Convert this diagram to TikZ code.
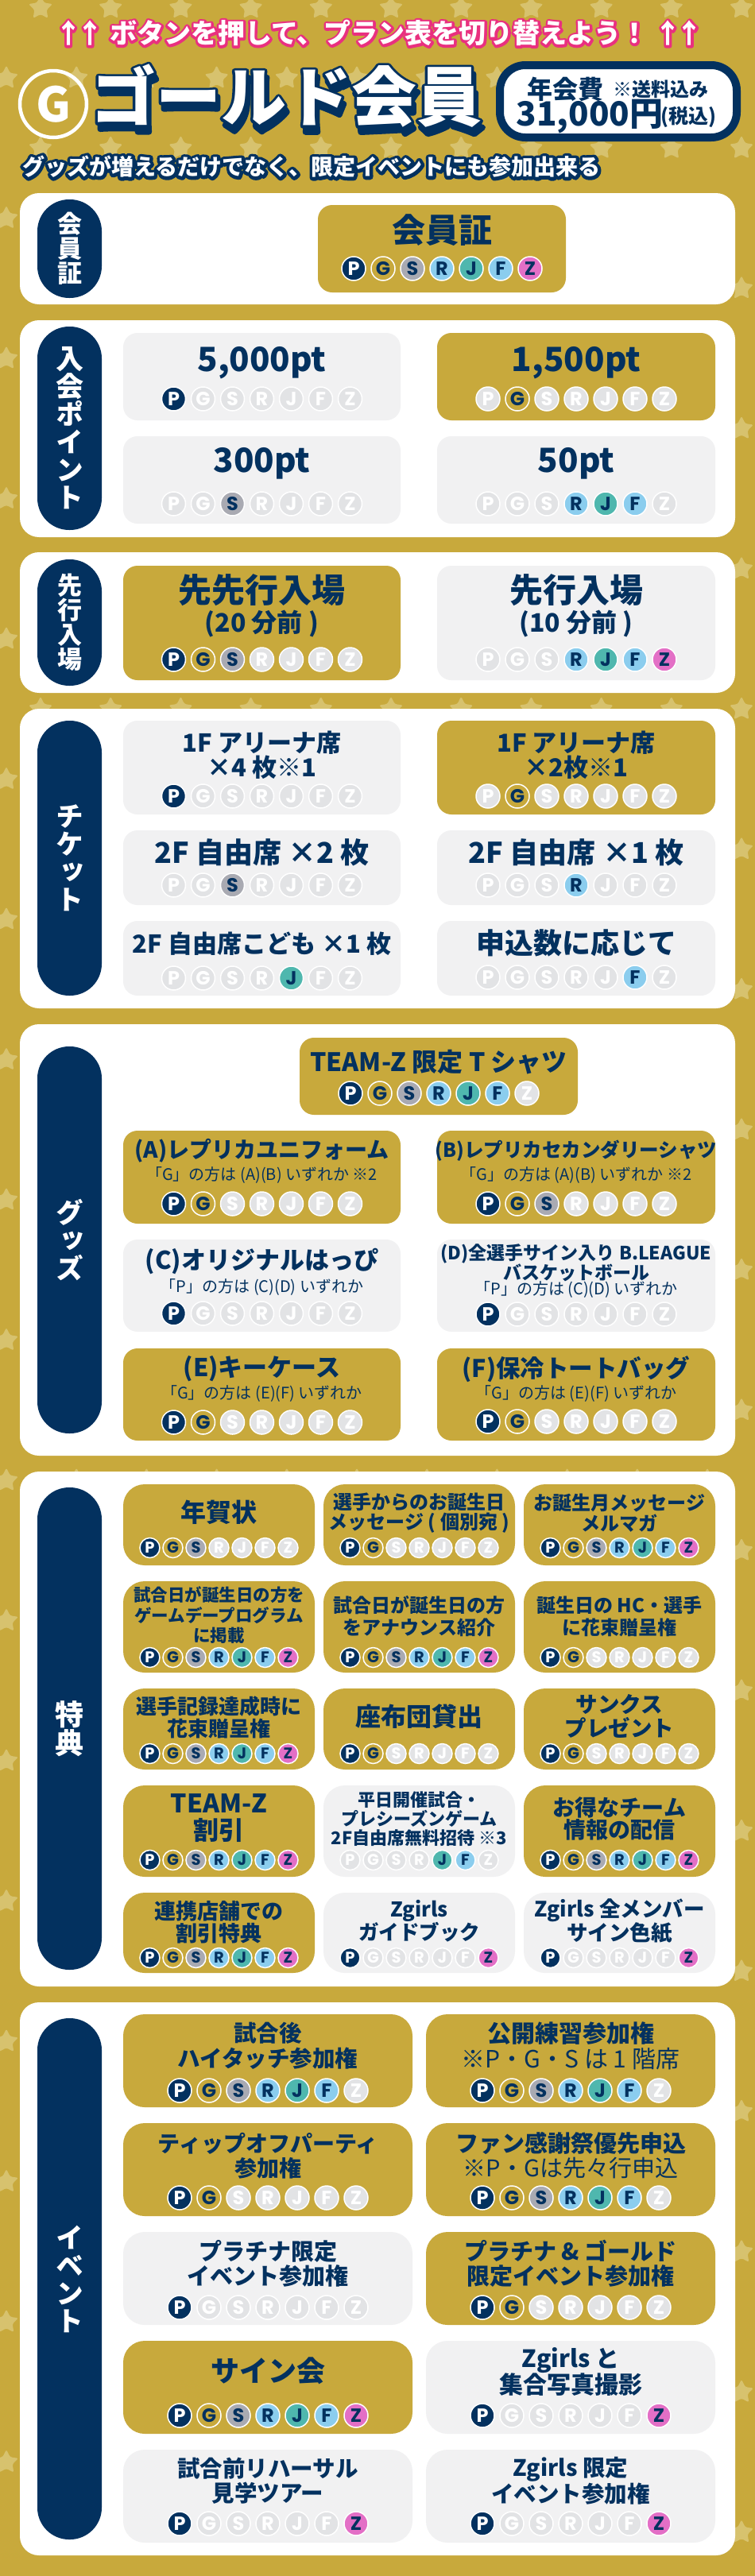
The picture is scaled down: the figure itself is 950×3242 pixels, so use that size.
\documentclass[tikz,border=0pt]{standalone}
\usepackage{fontspec}
\setmainfont{Noto Sans CJK JP}
\newfontfamily\heavyfont{Noto Sans CJK JP Black}
\newfontfamily\pillfont{Noto Sans CJK JP Black}[RawFeature=+vert]
\newfontfamily\badgefont{Poppins}
\definecolor{navy}{HTML}{03315F}
\definecolor{gold}{HTML}{C8A93C}
\definecolor{startile}{HTML}{D7C26E}
\definecolor{cardgray}{HTML}{F1F1F2}
\definecolor{badgeoffgray}{HTML}{E2E3E5}
\definecolor{silver}{HTML}{A9AAB2}
\definecolor{skyblue}{HTML}{8BCDEE}
\definecolor{teal}{HTML}{4FB7AE}
\definecolor{orchid}{HTML}{E36FC6}
\definecolor{hotpink}{HTML}{E9307F}

\tikzset{
  panelbox/.style={fill=white,rounded corners=24pt,inner sep=0pt},
  goldcard/.style={fill=gold,rounded corners=\cardradius,inner sep=0pt},
  graycard/.style={fill=cardgray,rounded corners=\cardradius,inner sep=0pt},
  feebox/.style={fill=white,draw=navy,line width=10pt,rounded corners=32pt,inner sep=0pt},
  pillbox/.style={fill=navy,text=white,rounded corners=40pt,inner sep=0pt,minimum width=81pt,align=center},
  cardlabel/.style={text=navy,align=center,inner sep=0pt},
  badge/.style={circle,draw=white,line width=1.5pt,inner sep=0pt,minimum size=\badgesize,
    font=\badgefont\bfseries\fontsize{\badgefs}{\badgefs}\selectfont},
  badgeoff/.style={badge,fill=badgeoffgray,text=white},
  badgeP/.style={badge,fill=navy,text=white},
  badgeG/.style={badge,fill=gold,text=navy},
  badgeS/.style={badge,fill=silver,text=navy},
  badgeR/.style={badge,fill=skyblue,text=navy},
  badgeJ/.style={badge,fill=teal,text=navy},
  badgeF/.style={badge,fill=skyblue,text=navy},
  badgeZ/.style={badge,fill=orchid,text=navy},
}

\def\starpath{(270:16) -- (306:8) -- (342:16) -- (18:8) -- (54:16) -- (90:8) -- (126:16) -- (162:8) -- (198:16) -- (234:8) -- cycle}

\newcommand{\card}[6]{\node[#2,minimum width={(#5-#3)*1pt},minimum height={(#6-#4)*1pt}] (#1) at ({(#3+#5)/2},{(#4+#6)/2}) {};}
\newcommand{\pill}[5]{\node[pillbox,minimum height={(#3-#2)*1pt},font={\pillfont\fontsize{#4}{#4}\selectfont}] (#1) at (87.5,{(#2+#3)/2}) {#5};}
\newcommand{\cardtext}[6]{\node[cardlabel,font={\bfseries\fontsize{#4}{#5}\selectfont}] (#1) at (#2,#3) {#6};}
\newcommand{\subtext}[5]{\node[cardlabel,font={\fontsize{#4}{#4}\selectfont}] (#1) at (#2,#3) {#5};}
\newcommand{\outlined}[3]{\rlap{\color{#1}\special{pdf:code 1 j 2 Tr #2 w}#3\special{pdf:code 0 Tr}}#3}
\makeatletter
\newcommand{\badgerow}[4]{%
  \foreach \letter [count=\i from -3] in {P,G,S,R,J,F,Z}{%
    \edef\badgetest{\noexpand\in@{\letter}{#4}}\badgetest
    \ifin@\def\badgestyle{badge\letter}\else\def\badgestyle{badgeoff}\fi
    \node[\badgestyle] (#1\letter) at ({#2+\i*\badgepitch},#3) {\letter};
  }%
}
\makeatother

\begin{document}
\begin{tikzpicture}[x=1pt,y=-1pt]
    \useasboundingbox (0,0) rectangle (950,3242);
    \fill[gold] (0,0) rectangle (950,3242);

    \foreach \k in {0,...,36}{
      \pgfmathsetmacro{\rowy}{10+88.25*\k}
      \pgfmathsetmacro{\rowx}{mod(\k,2)==0 ? 51 : 8}
      \foreach \j in {-1,...,11}{
        \fill[startile,rounded corners=2.5pt,shift={({\rowx+88.2*\j},\rowy)}] \starpath;
      }
    }

    \node[text=white,inner sep=0pt,font={\heavyfont\fontsize{34}{34}\selectfont}] (hint) at (477,42)
      {\outlined{hotpink}{6}{↑\kern-6.5pt↑ ボタンを押して、プラン表を切り替えよう！ ↑\kern-6.5pt↑}};

    \node[circle,draw=white,line width=4.5pt,text=white,minimum size=84pt,inner sep=0pt,
      font={\bfseries\fontsize{60}{60}\selectfont}] (gmark) at (67,131) {G};
    \node[text=white,inner sep=0pt,font={\heavyfont\fontsize{82}{82}\selectfont}] (title) at (360,125)
      {\rlap{\kern3pt\raisebox{-8pt}{\color{navy}\special{pdf:code 1 j 2 Tr 7 w}ゴールド会員\special{pdf:code 0 Tr}}}\outlined{navy}{7}{ゴールド会員}};

    \card{feeframe}{feebox}{629}{82}{927}{173}
    \node[cardlabel,font={\bfseries\fontsize{32}{32}\selectfont}] (feename) at (711,112) {年会費};
    \node[cardlabel,font={\bfseries\fontsize{24}{24}\selectfont}] (feenote) at (831,112) {※送料込み};
    \node[cardlabel,font={\bfseries\fontsize{42}{42}\selectfont}] (feeprice) at (742,147) {31,000円};
    \node[cardlabel,font={\bfseries\fontsize{25}{25}\selectfont}] (feetax) at (866,147) {(税込)};

    \node[text=white,inner sep=0pt,font={\heavyfont\fontsize{28}{28}\selectfont}] (tagline) at (392,210)
      {\outlined{navy}{8}{グッズが増えるだけでなく、限定イベントにも参加出来る}};

    \def\cardradius{18pt}
    \def\badgepitch{37}
    \def\badgesize{30pt}
    \def\badgefs{24}
    \def\colA{329.5}
    \def\colB{725}

    \card{panelcard}{panelbox}{25}{243}{925}{383}
    \pill{pillcard}{251}{375}{31}{会\\員\\証}
    \card{cardmain}{goldcard}{400}{258}{712}{368}
    \cardtext{cardmaint}{556}{290}{42}{42}{会員証}
    \badgerow{cardmain}{556}{338}{P,G,S,R,J,F,Z}

    \card{panelpoint}{panelbox}{25}{403}{925}{676}
    \pill{pillpoint}{411}{667}{35}{入\\会\\ポ\\イ\\ン\\ト}
    \card{pointa}{graycard}{155}{419}{504}{529}
    \cardtext{pointat}{\colA}{457}{42}{42}{5,000pt}
    \badgerow{pointa}{\colA}{502}{P}
    \card{pointb}{goldcard}{550}{419}{900}{529}
    \cardtext{pointbt}{\colB}{457}{42}{42}{1,500pt}
    \badgerow{pointb}{\colB}{502}{G}
    \card{pointc}{graycard}{155}{549}{504}{659}
    \cardtext{pointct}{\colA}{583}{42}{42}{300pt}
    \badgerow{pointc}{\colA}{634}{S}
    \card{pointd}{graycard}{550}{549}{900}{659}
    \cardtext{pointdt}{\colB}{583}{42}{42}{50pt}
    \badgerow{pointd}{\colB}{634}{R,J,F}

    \card{panelgate}{panelbox}{25}{695}{925}{872}
    \pill{pillgate}{704}{863}{31}{先\\行\\入\\場}
    \card{gatea}{goldcard}{155}{712}{504}{856}
    \cardtext{gateat}{\colA}{743}{42}{42}{先先行入場}
    \cardtext{gateas}{\colA}{785}{32}{32}{(20 分前 )}
    \badgerow{gatea}{\colA}{830}{P,G,S}
    \card{gateb}{graycard}{550}{712}{900}{856}
    \cardtext{gatebt}{\colB}{743}{42}{42}{先行入場}
    \cardtext{gatebs}{\colB}{785}{32}{32}{(10 分前 )}
    \badgerow{gateb}{\colB}{830}{R,J,F,Z}

    \card{panelticket}{panelbox}{25}{892}{925}{1269}
    \pill{pillticket}{907}{1253}{35}{チ\\ケ\\ッ\\ト}
    \card{ticketa}{graycard}{155}{907}{504}{1025}
    \cardtext{ticketat}{\colA}{950}{31}{29}{1F アリーナ席\\×4 枚※1}
    \badgerow{ticketa}{\colA}{1002}{P}
    \card{ticketb}{goldcard}{550}{907}{900}{1025}
    \cardtext{ticketbt}{\colB}{950}{31}{29}{1F アリーナ席\\×2枚※1}
    \badgerow{ticketb}{\colB}{1002}{G}
    \card{ticketc}{graycard}{155}{1045}{504}{1139}
    \cardtext{ticketct}{\colA}{1073}{36}{36}{2F 自由席 ×2 枚}
    \badgerow{ticketc}{\colA}{1114}{S}
    \card{ticketd}{graycard}{550}{1045}{900}{1139}
    \cardtext{ticketdt}{\colB}{1073}{36}{36}{2F 自由席 ×1 枚}
    \badgerow{ticketd}{\colB}{1114}{R}
    \card{tickete}{graycard}{155}{1159}{504}{1253}
    \cardtext{ticketet}{\colA}{1188}{31}{31}{2F 自由席こども ×1 枚}
    \badgerow{tickete}{\colA}{1231}{J}
    \card{ticketf}{graycard}{550}{1159}{900}{1253}
    \cardtext{ticketft}{\colB}{1187}{36}{36}{申込数に応じて}
    \badgerow{ticketf}{\colB}{1230}{F}

    \card{panelgoods}{panelbox}{25}{1289}{925}{1832}
    \pill{pillgoods}{1317}{1804}{35}{グ\\ッ\\ズ}
    \card{goodstop}{goldcard}{377}{1306}{727}{1403}
    \cardtext{goodstopt}{552}{1337}{32}{32}{TEAM-Z 限定 T シャツ}
    \badgerow{goodstop}{552}{1376}{P,G,S,R,J,F}
    \card{goodsa}{goldcard}{155}{1423}{504}{1540}
    \cardtext{goodsat}{\colA}{1448}{28}{28}{(A)レプリカユニフォーム}
    \subtext{goodsas}{\colA}{1479}{20}{「G」の方は (A)(B) いずれか ※2}
    \badgerow{goodsa}{\colA}{1515}{P,G}
    \card{goodsb}{goldcard}{550}{1423}{900}{1540}
    \cardtext{goodsbt}{\colB}{1448}{24.5}{24.5}{(B)レプリカセカンダリーシャツ}
    \subtext{goodsbs}{\colB}{1479}{20}{「G」の方は (A)(B) いずれか ※2}
    \badgerow{goodsb}{\colB}{1515}{P,G,S}
    \card{goodsc}{graycard}{155}{1560}{504}{1676}
    \cardtext{goodsct}{\colA}{1587}{31}{31}{(C)オリジナルはっぴ}
    \subtext{goodscs}{\colA}{1620}{20}{「P」の方は (C)(D) いずれか}
    \badgerow{goodsc}{\colA}{1653}{P}
    \card{goodsd}{graycard}{550}{1560}{900}{1676}
    \cardtext{goodsdt}{\colB}{1589}{23}{22}{(D)全選手サイン入り B.LEAGUE\\バスケットボール}
    \subtext{goodsds}{\colB}{1623}{20}{「P」の方は (C)(D) いずれか}
    \badgerow{goodsd}{\colB}{1654}{P}
    \card{goodse}{goldcard}{155}{1697}{504}{1813}
    \cardtext{goodset}{\colA}{1723}{31}{31}{(E)キーケース}
    \subtext{goodses}{\colA}{1754}{20}{「G」の方は (E)(F) いずれか}
    \badgerow{goodse}{\colA}{1790}{P,G}
    \card{goodsf}{goldcard}{550}{1697}{900}{1813}
    \cardtext{goodsft}{\colB}{1723}{30.5}{30.5}{(F)保冷トートバッグ}
    \subtext{goodsfs}{\colB}{1754}{20}{「G」の方は (E)(F) いずれか}
    \badgerow{goodsf}{\colB}{1789}{P,G}

    \def\cardradius{27pt}
    \def\badgepitch{29}
    \def\badgesize{25pt}
    \def\badgefs{19.5}
    \def\colA{275.5}
    \def\colB{527.5}
    \def\colC{779.5}

    \card{panelperk}{panelbox}{25}{1852}{925}{2500}
    \pill{pillperk}{1872}{2479}{36}{特\\典}
    \card{perka}{goldcard}{155}{1868}{396}{1970}
    \cardtext{perkat}{\colA}{1903}{32}{32}{年賀状}
    \badgerow{perka}{\colA}{1948}{P,G,S}
    \card{perkb}{goldcard}{407}{1868}{648}{1970}
    \cardtext{perkbt}{\colB}{1904}{24}{25.5}{選手からのお誕生日\\メッセージ ( 個別宛 )}
    \badgerow{perkb}{\colB}{1948}{P,G}
    \card{perkc}{goldcard}{659}{1868}{900}{1970}
    \cardtext{perkct}{\colC}{1904}{24}{25.5}{お誕生月メッセージ\\メルマガ}
    \badgerow{perkc}{\colC}{1948}{P,G,S,R,J,F,Z}
    \card{perkd}{goldcard}{155}{1990}{396}{2105}
    \cardtext{perkdt}{\colA}{2033}{21.5}{25.5}{試合日が誕生日の方を\\ゲームデープログラム\\に掲載}
    \badgerow{perkd}{\colA}{2086}{P,G,S,R,J,F,Z}
    \card{perke}{goldcard}{407}{1990}{648}{2105}
    \cardtext{perket}{\colB}{2034}{24}{28}{試合日が誕生日の方\\をアナウンス紹介}
    \badgerow{perke}{\colB}{2086}{P,G,S,R,J,F,Z}
    \card{perkf}{goldcard}{659}{1990}{900}{2105}
    \cardtext{perkft}{\colC}{2034}{24}{28}{誕生日の HC・選手\\に花束贈呈権}
    \badgerow{perkf}{\colC}{2086}{P,G}
    \card{perkg}{goldcard}{155}{2125}{396}{2227}
    \cardtext{perkgt}{\colA}{2161}{26}{28}{選手記録達成時に\\花束贈呈権}
    \badgerow{perkg}{\colA}{2207}{P,G,S,R,J,F,Z}
    \card{perkh}{goldcard}{407}{2125}{648}{2227}
    \cardtext{perkht}{\colB}{2160}{32}{32}{座布団貸出}
    \badgerow{perkh}{\colB}{2207}{P,G}
    \card{perki}{goldcard}{659}{2125}{900}{2227}
    \cardtext{perkit}{\colC}{2160}{27.5}{30}{サンクス\\プレゼント}
    \badgerow{perki}{\colC}{2207}{P,G}
    \card{perkj}{goldcard}{155}{2247}{396}{2362}
    \cardtext{perkjt}{\colA}{2288}{32}{34}{TEAM-Z\\割引}
    \badgerow{perkj}{\colA}{2341}{P,G,S,R,J,F,Z}
    \card{perkk}{graycard}{407}{2247}{648}{2362}
    \cardtext{perkkt}{\colB}{2289}{22}{24}{平日開催試合・\\プレシーズンゲーム\\2F自由席無料招待 ※3}
    \badgerow{perkk}{\colB}{2341}{J,F}
    \card{perkl}{goldcard}{659}{2247}{900}{2362}
    \cardtext{perklt}{\colC}{2289}{28}{28}{お得なチーム\\情報の配信}
    \badgerow{perkl}{\colC}{2341}{P,G,S,R,J,F,Z}
    \card{perkm}{goldcard}{155}{2382}{396}{2483}
    \cardtext{perkmt}{\colA}{2419}{27}{28}{連携店舗での\\割引特典}
    \badgerow{perkm}{\colA}{2464}{P,G,S,R,J,F,Z}
    \card{perkn}{graycard}{407}{2382}{648}{2483}
    \cardtext{perknt}{\colB}{2418}{25.5}{29}{Zgirls\\ガイドブック}
    \badgerow{perkn}{\colB}{2464}{P,Z}
    \card{perko}{graycard}{659}{2382}{900}{2483}
    \cardtext{perkot}{\colC}{2418}{26.5}{29}{Zgirls 全メンバー\\サイン色紙}
    \badgerow{perko}{\colC}{2464}{P,Z}

    \def\badgepitch{37}
    \def\badgesize{30pt}
    \def\badgefs{24}
    \def\colA{337}
    \def\colB{718}

    \card{panelevent}{panelbox}{25}{2520}{925}{3216}
    \pill{pillevent}{2540}{3196}{35}{イ\\ベ\\ン\\ト}
    \card{eventa}{goldcard}{155}{2535}{519}{2652}
    \cardtext{eventat}{\colA}{2575}{28.5}{32}{試合後\\ハイタッチ参加権}
    \badgerow{eventa}{\colA}{2631}{P,G,S,R,J,F}
    \card{eventb}{goldcard}{536}{2535}{900}{2652}
    \cardtext{eventbt}{\colB}{2575}{30}{32}{公開練習参加権\\\mdseries ※P・G・S は 1 階席}
    \badgerow{eventb}{\colB}{2631}{P,G,S,R,J,F}
    \card{eventc}{goldcard}{155}{2672}{519}{2789}
    \cardtext{eventct}{\colA}{2713}{28}{31}{ティップオフパーティ\\参加権}
    \badgerow{eventc}{\colA}{2766}{P,G}
    \card{eventd}{goldcard}{536}{2672}{900}{2789}
    \cardtext{eventdt}{\colB}{2713}{29}{31}{ファン感謝祭優先申込\\\mdseries ※P・Gは先々行申込}
    \badgerow{eventd}{\colB}{2766}{P,G,S,R,J,F}
    \card{evente}{graycard}{155}{2809}{519}{2926}
    \cardtext{eventet}{\colA}{2849}{29}{31}{プラチナ限定\\イベント参加権}
    \badgerow{evente}{\colA}{2904}{P}
    \card{eventf}{goldcard}{536}{2809}{900}{2926}
    \cardtext{eventft}{\colB}{2849}{29}{31}{プラチナ \& ゴールド\\限定イベント参加権}
    \badgerow{eventf}{\colB}{2904}{P,G}
    \card{eventg}{goldcard}{155}{2946}{519}{3063}
    \cardtext{eventgt}{\colA}{2984}{36}{36}{サイン会}
    \badgerow{eventg}{\colA}{3040}{P,G,S,R,J,F,Z}
    \card{eventh}{graycard}{536}{2946}{900}{3063}
    \cardtext{eventht}{\colB}{2985}{30}{33}{Zgirls と\\集合写真撮影}
    \badgerow{eventh}{\colB}{3040}{P,Z}
    \card{eventi}{graycard}{155}{3083}{519}{3200}
    \cardtext{eventit}{\colA}{3122}{28.5}{31}{試合前リハーサル\\見学ツアー}
    \badgerow{eventi}{\colA}{3176}{P,Z}
    \card{eventj}{graycard}{536}{3083}{900}{3200}
    \cardtext{eventjt}{\colB}{3122}{28.5}{31}{Zgirls 限定\\イベント参加権}
    \badgerow{eventj}{\colB}{3176}{P,Z}
\end{tikzpicture}
\end{document}
